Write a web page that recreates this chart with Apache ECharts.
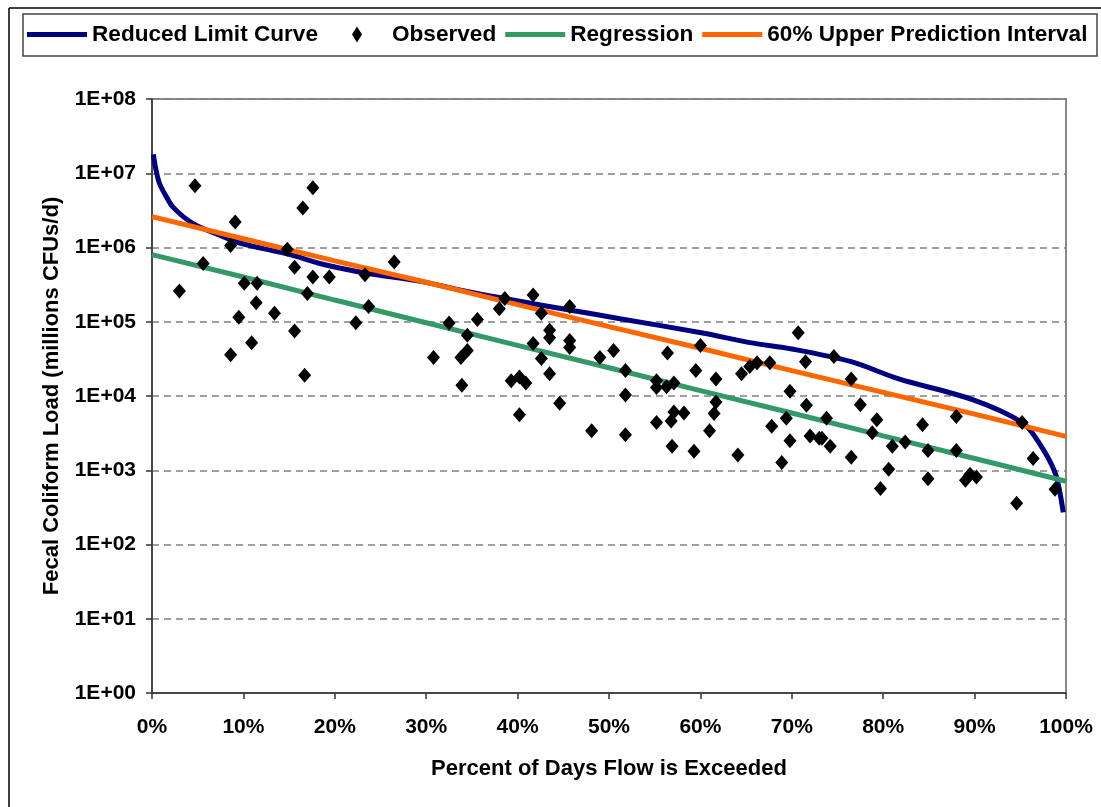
<!DOCTYPE html>
<html>
<head>
<meta charset="utf-8">
<script src="https://cdn.jsdelivr.net/npm/echarts@6/dist/echarts.min.js"></script>
<style>
html, body { margin: 0; padding: 0; background: #fff; }
#main { width: 1101px; height: 807px; }
</style>
</head>
<body>
<div id="main"></div>
<script>
// 数据（百分比 / 负荷）
var limitPct = [0.15, 0.4, 0.8, 1.35, 2.3, 4.5, 7.8, 9.6, 15.1, 18.8, 23.5, 29.4, 34.9, 42.5, 46.0, 51.2, 60.1, 65.6, 70.0, 76.5, 81.7, 89.7, 95.2, 97.0, 98.8, 99.7];
var limitLoad = [1.8e7, 1.17e7, 7.4e6, 5.4e6, 3.5e6, 2.1e6, 1.4e6, 1.15e6, 8.0e5, 5.9e5, 4.5e5, 3.5e5, 2.5e5, 1.68e5, 1.42e5, 1.1e5, 7.1e4, 5.2e4, 4.3e4, 2.9e4, 1.7e4, 9.0e3, 4.4e3, 2.4e3, 930, 270];

var regPct = [0, 10, 20, 30, 40, 50, 60, 70, 80, 90, 100];
var regLoad = [8.0e5, 4.0e5, 1.96e5, 9.7e4, 4.8e4, 2.4e4, 1.18e4, 5.9e3, 2.9e3, 1.44e3, 710];

var upperPct = [0, 10, 20, 30, 40, 50, 60, 70, 80, 90, 100];
var upperLoad = [2.6e6, 1.31e6, 6.6e5, 3.4e5, 1.7e5, 8.6e4, 4.4e4, 2.2e4, 1.12e4, 5.7e3, 2.86e3];

var obsPct = [
    4.7, 17.6, 16.5, 9.1, 8.6, 14.8, 5.6, 15.6, 17.6, 19.4, 23.3, 26.5, 3.0, 10.1, 11.5, 17.0, 11.4, 23.7, 13.4, 9.5, 22.3, 15.6, 10.9, 8.6, 16.7,
    38.6, 41.7, 38.0, 45.7, 42.6, 32.5, 35.6, 34.5, 43.5, 43.5, 41.7, 45.7, 45.7, 30.8, 34.5, 33.8, 42.6, 49.0, 50.5, 43.5, 33.9, 39.3, 40.2, 40.9, 44.6, 40.2, 48.1,
    51.8, 51.8, 51.8, 56.4, 60.0, 55.2, 55.2, 56.3, 57.1, 59.5, 61.7, 61.7, 61.5, 57.1, 56.8, 58.2, 55.2, 61.0, 56.9, 59.3, 64.1, 64.5, 65.4, 66.2, 67.6,
    70.7, 71.5, 74.6, 76.5, 69.8, 71.6, 69.4, 67.8, 73.8, 69.8, 72.0, 73.0, 73.3, 74.2, 68.9, 76.5,
    77.5, 79.3, 78.8, 81.0, 82.4, 84.3, 88.0, 84.9, 88.0, 80.6, 79.7, 84.9, 89.0, 89.5, 90.2, 95.2, 96.4, 94.6, 98.8
];
var obsLoad = [
    6.8e6, 6.4e6, 3.4e6, 2.2e6, 1.06e6, 9.5e5, 6.1e5, 5.4e5, 4.0e5, 4.0e5, 4.3e5, 6.4e5, 2.6e5, 3.3e5, 3.3e5, 2.4e5, 1.8e5, 1.6e5, 1.3e5, 1.15e5, 9.7e4, 7.5e4, 5.2e4, 3.6e4, 1.9e4,
    2.05e5, 2.3e5, 1.5e5, 1.6e5, 1.3e5, 9.6e4, 1.07e5, 6.6e4, 7.7e4, 6.1e4, 5.1e4, 5.6e4, 4.5e4, 3.3e4, 4.1e4, 3.3e4, 3.2e4, 3.3e4, 4.1e4, 2.0e4, 1.4e4, 1.6e4, 1.8e4, 1.5e4, 8.0e3, 5.6e3, 3.4e3,
    2.2e4, 1.03e4, 3.0e3, 3.8e4, 4.8e4, 1.6e4, 1.3e4, 1.33e4, 1.5e4, 2.2e4, 1.7e4, 8.3e3, 5.8e3, 6.1e3, 4.6e3, 5.9e3, 4.4e3, 3.4e3, 2.1e3, 1.8e3, 1.6e3, 2.0e4, 2.5e4, 2.8e4, 2.8e4,
    7.1e4, 2.9e4, 3.4e4, 1.7e4, 1.16e4, 7.5e3, 5.0e3, 3.9e3, 5.0e3, 2.5e3, 2.9e3, 2.7e3, 2.7e3, 2.1e3, 1.27e3, 1.5e3,
    7.6e3, 4.8e3, 3.2e3, 2.1e3, 2.4e3, 4.1e3, 5.3e3, 1.84e3, 1.84e3, 1.03e3, 570, 770, 735, 880, 810, 4.4e3, 1.44e3, 360, 556
];

var xTickLabels = ['0%', '10%', '20%', '30%', '40%', '50%', '60%', '70%', '80%', '90%', '100%'];
var legendNames = ['Reduced Limit Curve', 'Observed', 'Regression', '60% Upper Prediction Interval'];

function pairs(xs, ys) {
    var out = [];
    for (var i = 0; i < xs.length; i++) {
        out.push([xs[i], ys[i]]);
    }
    return out;
}

var font = "'Liberation Sans', Arial, sans-serif";
var lineIcon = 'path://M0,0 L60,0 L60,5 L0,5 Z';//图例线条
var diamondIcon = 'path://M0,8 L0.01,8 Z M30,0 L35,8 L30,16 L25,8 Z M59.99,8 L60,8 Z';//图例菱形（两端占位）
var myChart = echarts.init(document.getElementById('main'), null, { renderer: 'canvas' });

var option = {
    backgroundColor: '#fff',
    animation: false,
    textStyle: { fontFamily: font, color: '#000' },
    graphic: [
        // 外框
        { type: 'line', shape: { x1: 9, y1: 8, x2: 1101, y2: 8 }, style: { stroke: '#000', lineWidth: 1.5 } },
        { type: 'line', shape: { x1: 9, y1: 8, x2: 9, y2: 807 }, style: { stroke: '#000', lineWidth: 1.5 } },
        // 图例框
        { type: 'rect', shape: { x: 23, y: 14, width: 1074, height: 42 }, style: { fill: 'none', stroke: '#444', lineWidth: 1.5 } }
    ],
    legend: {
        data: [
            { name: legendNames[0], icon: lineIcon },
            { name: legendNames[1], icon: diamondIcon },
            { name: legendNames[2], icon: lineIcon },
            { name: legendNames[3], icon: lineIcon }
        ],
        left: 27,
        top: 23,
        itemWidth: 60,
        itemHeight: 16,
        itemGap: 9,
        padding: 0,
        textStyle: { fontFamily: font, fontWeight: 'bold', fontSize: 22.6, color: '#000' }
    },
    grid: {
        left: 152,
        right: 35,
        top: 99,
        bottom: 114,
        show: true,
        borderColor: '#888',
        borderWidth: 2
    },
    xAxis: {
        type: 'value',
        min: 0,
        max: 100,
        interval: 10,
        name: 'Percent of Days Flow is Exceeded',
        nameLocation: 'middle',
        nameGap: 65,
        nameTextStyle: { fontFamily: font, fontWeight: 'bold', fontSize: 22, color: '#000' },
        axisLine: { lineStyle: { color: '#333', width: 1.5 } },
        axisTick: { length: 6, lineStyle: { color: '#333', width: 1.5 } },
        splitLine: { show: false },
        axisLabel: {
            margin: 24,
            fontFamily: font, fontWeight: 'bold', fontSize: 21, color: '#000',
            formatter: function (v) { return xTickLabels[Math.round(v / 10)]; }
        }
    },
    yAxis: {
        type: 'log',
        logBase: 10,
        min: 1,
        max: 1e8,
        splitNumber: 8,
        name: 'Fecal Coliform Load (millions CFUs/d)',
        nameLocation: 'middle',
        nameGap: 89,
        nameTextStyle: { fontFamily: font, fontWeight: 'bold', fontSize: 22, color: '#000' },
        axisLine: { show: true, lineStyle: { color: '#333', width: 1.5 } },
        axisTick: { show: true, length: 6, lineStyle: { color: '#333', width: 1.5 } },
        minorTick: { show: false },
        splitLine: { show: true, lineStyle: { color: '#808080', width: 1.5, type: [7, 5] } },
        axisLabel: {
            margin: 16,
            fontFamily: font, fontWeight: 'bold', fontSize: 21, color: '#000',
            formatter: function (v) {
                var e = Math.round(Math.log(v) / Math.LN10);
                return '1E+' + (e < 10 ? '0' + e : e);
            }
        }
    },
    series: [
        {
            name: 'Reduced Limit Curve',
            type: 'line',
            data: pairs(limitPct, limitLoad),
            symbol: 'none',
            smooth: 0.3,
            lineStyle: { color: '#000080', width: 5 },
            itemStyle: { color: '#000080' },
            z: 2
        },
        {
            name: 'Observed',
            type: 'scatter',
            data: pairs(obsPct, obsLoad),
            symbol: 'diamond',
            symbolSize: [13, 15],
            itemStyle: { color: '#000', opacity: 1 },
            z: 5
        },
        {
            name: 'Regression',
            type: 'line',
            data: pairs(regPct, regLoad),
            symbol: 'none',
            lineStyle: { color: '#339966', width: 5 },
            itemStyle: { color: '#339966' },
            z: 3
        },
        {
            name: '60% Upper Prediction Interval',
            type: 'line',
            data: pairs(upperPct, upperLoad),
            symbol: 'none',
            lineStyle: { color: '#FF6600', width: 5 },
            itemStyle: { color: '#FF6600' },
            z: 4
        }
    ]
};

myChart.setOption(option);
</script>
</body>
</html>
